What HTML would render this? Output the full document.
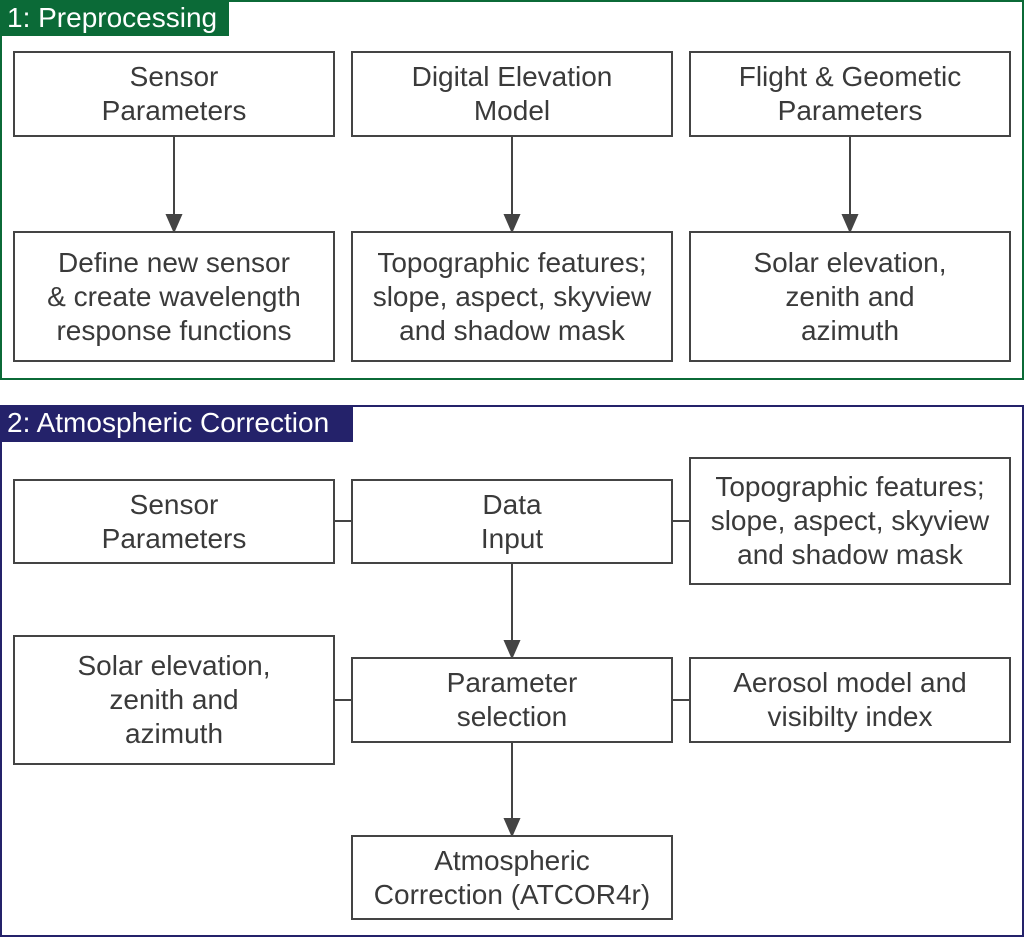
<!DOCTYPE html>
<html><head><style>
body{margin:0;width:1024px;height:937px;background:#fff;position:relative;overflow:hidden;font-family:"Liberation Sans",sans-serif;}
.sec{position:absolute;box-sizing:border-box;border:2px solid}
.hd{position:absolute;color:#fff;font-size:28px;line-height:36px;padding-left:7px;box-sizing:border-box;white-space:nowrap}
.b{position:absolute;box-sizing:border-box;border:2px solid #444;display:flex;align-items:center;justify-content:center;text-align:center;color:#3a3a3a;font-size:28px;line-height:34px;background:#fff;white-space:nowrap}
</style></head><body>
<div class="sec" style="left:0;top:0;width:1024px;height:380px;border-color:#0b6a37"></div>
<div class="hd" style="left:0;top:0;width:229px;height:36px;background:#0b6a37">1: Preprocessing</div>
<div class="sec" style="left:0;top:405px;width:1024px;height:532px;border-color:#24226a"></div>
<div class="hd" style="left:0;top:405px;width:353px;height:37px;background:#24226a">2: Atmospheric Correction</div>
<svg width="1024" height="937" style="position:absolute;left:0;top:0">
<g stroke="#444" stroke-width="2" fill="#444">
<line x1="174" y1="136" x2="174" y2="222"/><polygon points="167,215 181,215 174,231"/>
<line x1="512" y1="136" x2="512" y2="222"/><polygon points="505,215 519,215 512,231"/>
<line x1="850" y1="136" x2="850" y2="222"/><polygon points="843,215 857,215 850,231"/>
<line x1="334" y1="521" x2="352" y2="521"/><line x1="672" y1="521" x2="690" y2="521"/>
<line x1="512" y1="563" x2="512" y2="648"/><polygon points="505,641 519,641 512,657"/>
<line x1="334" y1="700" x2="352" y2="700"/><line x1="672" y1="700" x2="690" y2="700"/>
<line x1="512" y1="742" x2="512" y2="826"/><polygon points="505,819 519,819 512,835"/>
</g></svg>
<div class="b" style="left:13px;top:51px;width:322px;height:86px">Sensor<br>Parameters</div>
<div class="b" style="left:351px;top:51px;width:322px;height:86px">Digital Elevation<br>Model</div>
<div class="b" style="left:689px;top:51px;width:322px;height:86px">Flight &amp; Geometic<br>Parameters</div>
<div class="b" style="left:13px;top:231px;width:322px;height:131px">Define new sensor<br>&amp; create wavelength<br>response functions</div>
<div class="b" style="left:351px;top:231px;width:322px;height:131px">Topographic features;<br>slope, aspect, skyview<br>and shadow mask</div>
<div class="b" style="left:689px;top:231px;width:322px;height:131px">Solar elevation,<br>zenith and<br>azimuth</div>
<div class="b" style="left:13px;top:479px;width:322px;height:85px">Sensor<br>Parameters</div>
<div class="b" style="left:351px;top:479px;width:322px;height:85px">Data<br>Input</div>
<div class="b" style="left:689px;top:457px;width:322px;height:128px">Topographic features;<br>slope, aspect, skyview<br>and shadow mask</div>
<div class="b" style="left:13px;top:635px;width:322px;height:130px">Solar elevation,<br>zenith and<br>azimuth</div>
<div class="b" style="left:351px;top:657px;width:322px;height:86px">Parameter<br>selection</div>
<div class="b" style="left:689px;top:657px;width:322px;height:86px">Aerosol model and<br>visibilty index</div>
<div class="b" style="left:351px;top:835px;width:322px;height:85px">Atmospheric<br>Correction (ATCOR4r)</div>
</body></html>
